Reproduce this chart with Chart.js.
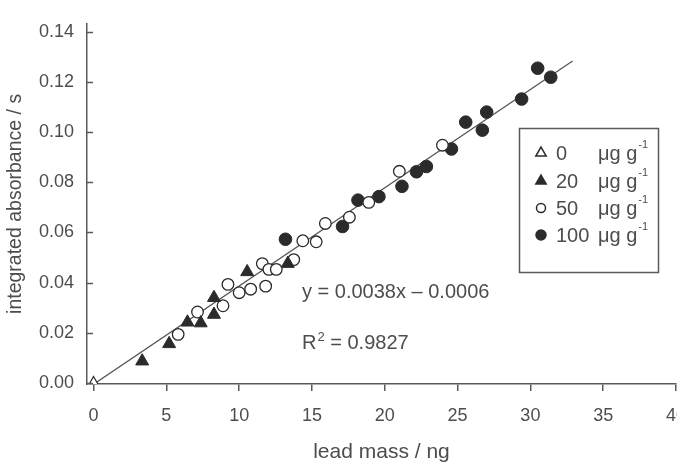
<!DOCTYPE html>
<html>
<head>
<meta charset="utf-8">
<script src="https://cdn.jsdelivr.net/npm/chart.js@4/dist/chart.umd.min.js"></script>
<style>
    html, body { margin: 0; padding: 0; background: #fff; overflow: hidden; }
    #wrap { width: 700px; height: 466px; }
</style>
</head>
<body>
<div id="wrap"><canvas id="lead-chart" width="700" height="466"></canvas></div>
<script>
// Pb concentration groups (μg g-1)
const groupLabels = ['0', '20', '50', '100'];

// lead mass (ng) / integrated absorbance (s) for each group
const mass0 = [0];
const abs0 = [0];

const mass20 = [3.34, 5.19, 6.45, 7.36, 8.27, 8.27, 10.55, 13.34];
const abs20 = [0.0087, 0.0156, 0.0242, 0.0239, 0.0273, 0.0340, 0.0443, 0.0476];

const mass50 = [5.81, 7.14, 8.89, 9.23, 10.0, 10.79, 11.59, 11.82, 12.04, 12.55, 13.75, 14.37, 15.29, 15.92, 17.57, 18.9, 21.0, 23.96];
const abs50 = [0.0194, 0.0283, 0.0308, 0.0393, 0.0360, 0.0374, 0.0476, 0.0386, 0.0453, 0.0453, 0.0492, 0.0567, 0.0563, 0.0636, 0.0661, 0.0720, 0.0844, 0.0948];

const mass100 = [13.18, 17.1, 18.16, 19.6, 21.18, 22.18, 22.86, 24.58, 25.56, 26.7, 27.0, 29.4, 30.5, 31.4];
const abs100 = [0.0573, 0.0624, 0.0729, 0.0743, 0.0784, 0.0842, 0.0863, 0.0933, 0.1040, 0.1008, 0.1080, 0.1132, 0.1255, 0.1219];

// regression line end points as drawn
const fitMass = [-0.1, 32.9];
const fitAbs = [-0.0009, 0.1284];

const xTicks = [0, 5, 10, 15, 20, 25, 30, 35, 40];
const yTicks = [0, 0.02, 0.04, 0.06, 0.08, 0.10, 0.12, 0.14];

const fitText = 'y = 0.0038x \u2013 0.0006';
const r2Text = ' = 0.9827';

const ink = '#2b2b2b';
const axisColor = '#5a5a5a';
const textColor = '#4d4d4d';
const font = 'Arial, "Liberation Sans", sans-serif';

const toPoints = (xs, ys) => xs.map((x, i) => ({ x: x, y: ys[i] }));

// inward y ticks, legend box and the fit annotation
const extras = {
    id: 'extras',
    afterDraw(chart) {
        const ctx = chart.ctx;
        const xs = chart.scales.x;
        const ys = chart.scales.y;
        ctx.save();

        // y tick marks pointing into the plot
        ctx.strokeStyle = axisColor;
        ctx.lineWidth = 1.5;
        yTicks.forEach(v => {
            const py = Math.round(ys.getPixelForValue(v)) + 0.5;
            ctx.beginPath();
            ctx.moveTo(xs.left, py);
            ctx.lineTo(xs.left + 6, py);
            ctx.stroke();
        });

        // fit equation
        ctx.fillStyle = textColor;
        ctx.textBaseline = 'middle';
        ctx.textAlign = 'left';
        ctx.font = '20px ' + font;
        ctx.fillText(fitText, 302, 292);
        ctx.fillText('R', 302, 343);
        const rw = ctx.measureText('R').width;
        ctx.font = '13px ' + font;
        ctx.fillText('2', 302 + rw + 1, 337);
        const sw = ctx.measureText('2').width;
        ctx.font = '20px ' + font;
        ctx.fillText(r2Text, 302 + rw + 1 + sw, 343);

        // legend box
        ctx.strokeStyle = axisColor;
        ctx.lineWidth = 1.5;
        ctx.strokeRect(519.5, 128.5, 139, 144);
        const rows = [153, 181, 208, 235];
        const markers = [
            { style: 'triangle', r: 6, fill: '#fff', stroke: ink },
            { style: 'triangle', r: 6, fill: ink, stroke: ink },
            { style: 'circle', r: 4.5, fill: '#fff', stroke: ink },
            { style: 'circle', r: 5, fill: ink, stroke: ink }
        ];
        groupLabels.forEach((lab, i) => {
            const m = markers[i];
            ctx.fillStyle = m.fill;
            ctx.strokeStyle = m.stroke;
            Chart.helpers.drawPoint(ctx, { pointStyle: m.style, radius: m.r, borderWidth: 1.2, rotation: 0 }, 541, rows[i]);
            ctx.fillStyle = textColor;
            ctx.font = '20px ' + font;
            ctx.fillText(lab, 556, rows[i] + 1);
            ctx.fillText('\u03bcg g', 598, rows[i] + 1);
            const uw = ctx.measureText('\u03bcg g').width;
            ctx.font = '11px ' + font;
            ctx.fillText('-1', 598 + uw + 1, rows[i] - 8);
        });

        ctx.restore();
    }
};

new Chart(document.getElementById('lead-chart'), {
    type: 'scatter',
    data: {
        datasets: [
            {
                label: groupLabels[0],
                data: toPoints(mass0, abs0),
                pointStyle: 'triangle',
                pointRadius: 6.5,
                backgroundColor: '#fff',
                borderColor: ink,
                borderWidth: 1.2,
                order: 1
            },
            {
                label: groupLabels[1],
                data: toPoints(mass20, abs20),
                pointStyle: 'triangle',
                pointRadius: 7.5,
                backgroundColor: ink,
                borderColor: ink,
                borderWidth: 1,
                order: 2
            },
            {
                label: groupLabels[2],
                data: toPoints(mass50, abs50),
                pointStyle: 'circle',
                pointRadius: 5.8,
                backgroundColor: '#fff',
                borderColor: ink,
                borderWidth: 1.3,
                order: 3
            },
            {
                label: groupLabels[3],
                data: toPoints(mass100, abs100),
                pointStyle: 'circle',
                pointRadius: 6.3,
                backgroundColor: ink,
                borderColor: ink,
                borderWidth: 1,
                order: 4
            },
            {
                type: 'line',
                label: 'fit',
                data: toPoints(fitMass, fitAbs),
                borderColor: '#555',
                borderWidth: 1.3,
                pointRadius: 0,
                fill: false,
                order: 10
            }
        ]
    },
    options: {
        responsive: false,
        animation: false,
        events: [],
        layout: { padding: { left: 0, right: 23, top: 5, bottom: 0 } },
        plugins: {
            legend: { display: false },
            tooltip: { enabled: false }
        },
        scales: {
            x: {
                type: 'linear',
                min: -0.45,
                max: 40,
                afterFit: s => { s.height = 82; },
                afterBuildTicks: s => { s.ticks = xTicks.map(v => ({ value: v })); },
                border: { display: true, color: axisColor, width: 1.5 },
                grid: { display: true, drawOnChartArea: false, drawTicks: true, tickLength: 7, color: axisColor, lineWidth: 1.5 },
                ticks: {
                    color: textColor,
                    font: { family: font, size: 18 },
                    padding: 14,
                    maxRotation: 0,
                    callback: v => String(v)
                },
                title: {
                    display: true,
                    text: 'lead mass / ng',
                    color: textColor,
                    font: { family: font, size: 21 },
                    padding: { top: 0, bottom: 1 }
                }
            },
            y: {
                type: 'linear',
                min: -0.0004,
                max: 0.1432,
                afterFit: s => { s.width = 87; },
                afterBuildTicks: s => { s.ticks = yTicks.map(v => ({ value: v })); },
                border: { display: true, color: axisColor, width: 1.5 },
                grid: { display: false, drawTicks: false },
                ticks: {
                    color: textColor,
                    font: { family: font, size: 18 },
                    padding: 13,
                    callback: v => v.toFixed(2)
                },
                title: {
                    display: true,
                    text: 'integrated absorbance / s',
                    color: textColor,
                    font: { family: font, size: 19.5 },
                    padding: { top: 4, bottom: 0 }
                }
            }
        }
    },
    plugins: [extras]
});
</script>
</body>
</html>
